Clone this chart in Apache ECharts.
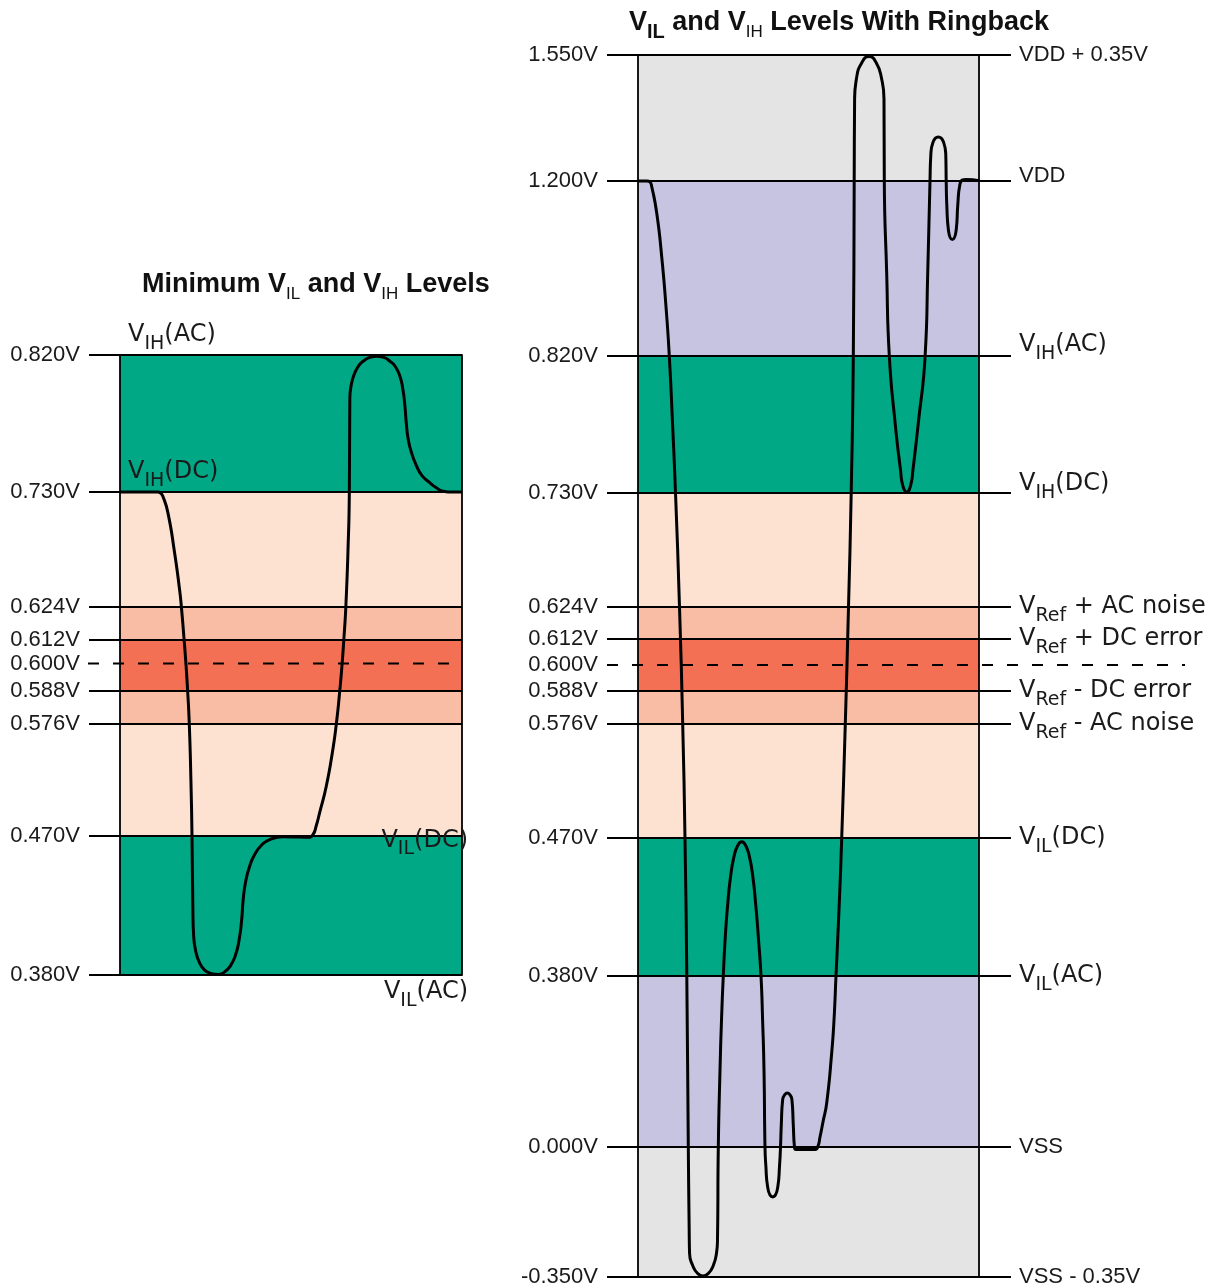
<!DOCTYPE html>
<html><head><meta charset="utf-8">
<script src="https://cdn.jsdelivr.net/npm/echarts@6/dist/echarts.min.js"></script>
<style>html,body{margin:0;padding:0;background:#fff}#c{width:1221px;height:1287px}</style>
</head><body><div id="c"></div>
<script>
// ===================== DATA =====================
const leftLevels = [0.380, 0.470, 0.576, 0.588, 0.600, 0.612, 0.624, 0.730, 0.820];
const leftTickLabels = ['0.380V', '0.470V', '0.576V', '0.588V', '0.600V', '0.612V', '0.624V', '0.730V', '0.820V'];
const leftLevelNames = ['V_IL(AC)', 'V_IL(DC)', '', '', '', '', '', 'V_IH(DC)', 'V_IH(AC)'];

const rightLevels = [-0.350, 0.000, 0.380, 0.470, 0.576, 0.588, 0.600, 0.612, 0.624, 0.730, 0.820, 1.200, 1.550];
const rightTickLabels = ['-0.350V', '0.000V', '0.380V', '0.470V', '0.576V', '0.588V', '0.600V', '0.612V', '0.624V', '0.730V', '0.820V', '1.200V', '1.550V'];
const rightLevelNames = ['VSS - 0.35V', 'VSS', 'V_IL(AC)', 'V_IL(DC)', 'V_Ref - AC noise', 'V_Ref - DC error', '', 'V_Ref + DC error', 'V_Ref + AC noise', 'V_IH(DC)', 'V_IH(AC)', 'VDD', 'VDD + 0.35V'];

const vRef = 0.600;

// bands: [low, high, kind]
const leftBands = [[0.380, 0.470, 'ac'], [0.470, 0.576, 'dc'], [0.576, 0.588, 'noise'], [0.588, 0.612, 'error'], [0.612, 0.624, 'noise'], [0.624, 0.730, 'dc'], [0.730, 0.820, 'ac']];
const rightBands = [[-0.350, 0.000, 'over'], [0.000, 0.380, 'rail'], [0.380, 0.470, 'ac'], [0.470, 0.576, 'dc'], [0.576, 0.588, 'noise'], [0.588, 0.612, 'error'], [0.612, 0.624, 'noise'], [0.624, 0.730, 'dc'], [0.730, 0.820, 'ac'], [0.820, 1.200, 'rail'], [1.200, 1.550, 'over']];

// waveform: time (% of window) and voltage
const leftTime = [0, 11.1, 11.86, 12.53, 14.0, 15.96, 17.42, 17.95, 18.74, 19.27, 19.77, 20.26, 20.73, 21.05, 21.32, 21.52, 22.1, 23.28, 24.74, 26.5, 28.64, 30.6, 32.36, 33.82, 34.85, 35.58, 36.02, 36.75, 37.92, 39.38, 41.43, 43.78, 47.67, 52.56, 54.9, 56.37, 57.4, 58.4, 60.3, 62.1, 63.25, 64.27, 64.95, 65.45, 66.03, 66.7, 67.06, 67.2, 67.64, 68.67, 69.84, 71.1, 73.06, 75.02, 77.16, 78.92, 80.38, 81.84, 82.72, 83.31, 83.75, 84.28, 85.21, 86.73, 88.29, 90.63, 92.39, 94.52, 97.07, 100];
const leftVolts = [0.730, 0.730, 0.729, 0.726, 0.711, 0.674, 0.640, 0.624, 0.612, 0.600, 0.588, 0.576, 0.523, 0.470, 0.4203, 0.4061, 0.3958, 0.3878, 0.3832, 0.3810, 0.3803, 0.3820, 0.3862, 0.3932, 0.4029, 0.4158, 0.4287, 0.4403, 0.4502, 0.4577, 0.4639, 0.4674, 0.4692, 0.4690, 0.4688, 0.4706, 0.4795, 0.492, 0.5166, 0.549, 0.576, 0.588, 0.600, 0.612, 0.624, 0.680, 0.730, 0.7908, 0.8006, 0.8083, 0.8131, 0.8159, 0.8184, 0.8192, 0.8184, 0.8159, 0.8128, 0.8061, 0.7973, 0.7864, 0.7743, 0.7645, 0.7560, 0.7470, 0.7408, 0.7360, 0.7330, 0.7305, 0.730, 0.730];

const rightTime = [0, 2.64, 3.52, 4.02, 5.48, 6.95, 8.21, 9.18, 10.12, 11.0,
  12.17, 13.11, 13.78, 14.31, 14.75, 15.01, 15.13, 16.04, 17.45, 19.06,
  20.67, 22.08, 22.99, 23.31, 23.55, 24.05, 24.49, 25.01, 25.6, 26.33,
  27.21, 28.15, 29.18, 30.41, 31.64, 32.67, 33.61, 34.49, 35.28, 36.07,
  36.54, 36.95, 37.24, 37.48, 38.04, 39.5, 40.97, 41.52, 41.79, 42.02,
  42.43, 43.05, 43.78, 44.52, 45.13, 45.54, 45.89, 46.33, 51.91, 52.79,
  53.37, 54.25, 55.34, 56.8, 57.48, 58.06, 59.03, 59.74, 60.79, 61.73,
  62.52, 63.14, 63.4, 63.52, 64.08, 65.69, 67.74, 69.79, 71.41, 72.14,
  72.23, 72.93, 73.7, 75.4, 76.98, 77.65, 78.8, 79.94, 80.62, 82.2,
  84.2, 84.96, 85.63, 85.87, 86.51, 88.06, 89.62, 90.26, 90.38, 90.56,
  91.03, 92.17, 93.31, 93.78, 94.37, 95.16, 96.19, 100];
const rightVolts = [1.200, 1.200, 1.1978, 1.188, 1.131, 1.036, 0.927, 0.820, 0.776, 0.730,
  0.624, 0.576, 0.470, 0.380, 0.000, -0.2234, -0.2875, -0.3190, -0.3400, -0.3473,
  -0.3400, -0.3190, -0.2875, -0.2504, 0.000, 0.1711, 0.2822, 0.380, 0.4056, 0.4274,
  0.4459, 0.4578, 0.4648, 0.4676, 0.4648, 0.4578, 0.4459, 0.4274, 0.4056, 0.380,
  0.2822, 0.1711, 0.000, -0.0485, -0.1093, -0.1346, -0.1093, -0.0485, 0.000, 0.0489,
  0.1058, 0.1162, 0.120, 0.1162, 0.1058, 0.0489, 0.000, -0.0067, -0.0067, 0.0022,
  0.0222, 0.0556, 0.0978, 0.2089, 0.2822, 0.380, 0.4276, 0.470, 0.576, 0.624,
  0.730, 0.820, 1.200, 1.425, 1.4854, 1.5297, 1.5459, 1.5297, 1.4854, 1.425,
  1.200, 1.000, 0.820, 0.776, 0.7451, 0.7349, 0.7306, 0.7349, 0.7451, 0.776,
  0.820, 1.000, 1.200, 1.2722, 1.3075, 1.3222, 1.3075, 1.2722, 1.200, 1.1479,
  1.0936, 1.0730, 1.0936, 1.1479, 1.1913, 1.2028, 1.2042, 1.201];

const leftTitle = ['Minimum V', 'IL', ' and V', 'IH', ' Levels'];
const rightTitle = ['V', 'IL', ' and V', 'IH', ' Levels With Ringback'];

// ===================== LAYOUT / STYLE =====================
// non-linear voltage scale: display position (px from bottom of box) of each level
const LEFT_POS = [0, 139.5, 251, 284.5, 311.5, 335.5, 368, 483, 620];
const RIGHT_POS = [0, 130, 301, 439, 553, 586, 612, 638, 670, 784, 921, 1096, 1222];
const BAND_COLORS = { over: '#E4E4E4', rail: '#C7C4E1', ac: '#00A886', dc: '#FDE1D1', noise: '#F9BDA6', error: '#F37054' };
const FONT = '"Liberation Sans", Arial, Helvetica, sans-serif';
const WIDE = '"DejaVu Sans", Verdana, sans-serif';
const INK = '#1a1a1a';
const LEFT_NAME_PLACE = {
  'V_IH(AC)': { x: 0, align: 'left', dx: 8, dy: -20 },
  'V_IH(DC)': { x: 0, align: 'left', dx: 8, dy: -20 },
  'V_IL(DC)': { x: 100, align: 'right', dx: 6, dy: 5 },
  'V_IL(AC)': { x: 100, align: 'right', dx: 6, dy: 17 }
};
const RIGHT_NAME_LIFT = { 'VDD': 5, 'V_IH(AC)': 11, 'V_IH(DC)': 9 };

function toPos(v, levels, pos) {
  let i = 0;
  while (i < levels.length - 2 && v > levels[i + 1]) i++;
  const a = levels[i], b = levels[i + 1];
  return pos[i] + (v - a) / (b - a) * (pos[i + 1] - pos[i]);
}
const lp = v => toPos(v, leftLevels, LEFT_POS);
const rp = v => toPos(v, rightLevels, RIGHT_POS);

function richName(name) {
  const m = /^V_([A-Za-z]+)(.*)$/.exec(name);
  if (!m) return '{p|' + name + '}';
  return '{m|V}{s|' + m[1] + '}{m|' + m[2] + '}';
}
const NAME_RICH = {
  p: { fontSize: 22, fontFamily: FONT, color: INK, lineHeight: 38, textBorderWidth: 0, opacity: 1 },
  m: { fontSize: 24, fontFamily: WIDE, color: INK, lineHeight: 38, textBorderWidth: 0, opacity: 1 },
  s: { fontSize: 19, fontFamily: WIDE, color: INK, padding: [18, 0, 0, 0], textBorderWidth: 0, opacity: 1 }
};
const RIGHT_RICH = Object.assign({}, NAME_RICH);
Object.keys(RIGHT_NAME_LIFT).forEach(k => {
  const L = RIGHT_NAME_LIFT[k];
  RIGHT_RICH['g' + L] = { fontSize: 1, lineHeight: 2 * L, color: 'rgba(0,0,0,0)' };
});
function rightName(name) {
  const L = RIGHT_NAME_LIFT[name];
  return richName(name) + (L ? '\n{g' + L + '| }' : '');
}

function lookupLabel(val, levels, posFn, labels) {
  let best = 0, d = 1e9;
  levels.forEach((lv, i) => { const dd = Math.abs(posFn(lv) - val); if (dd < d) { d = dd; best = i; } });
  return labels[best];
}

const TICK_STYLE = { color: '#000', width: 2 };
const LINE_STYLE = { color: '#000', width: 1.8, type: 'solid' };

function valueAxis(grid, maxPos, position, opts) {
  return Object.assign({
    gridIndex: grid, type: 'value', min: 0, max: maxPos, position: position, z: 6,
    axisLine: { show: true, onZero: false, lineStyle: { color: '#000', width: 1.8 } },
    axisTick: { show: false }, axisLabel: { show: false }, splitLine: { show: false }
  }, opts || {});
}

const leftTickPos = leftLevels.filter(v => v !== vRef).map(lp);
const rightTickPos = rightLevels.filter(v => v !== vRef).map(rp);
const LMAX = LEFT_POS[LEFT_POS.length - 1], RMAX = RIGHT_POS[RIGHT_POS.length - 1];

const tickLabelStyle = { fontSize: 22, fontFamily: FONT, color: INK, margin: 40, hideOverlap: false };

function bandArea(bands, posFn) {
  return {
    silent: true,
    data: bands.map(b => [{ yAxis: posFn(b[0]), itemStyle: { color: BAND_COLORS[b[2]] } }, { yAxis: posFn(b[1]) }])
  };
}
function levelLines(levels, posFn) {
  return {
    silent: true, symbol: 'none', label: { show: false }, lineStyle: LINE_STYLE,
    emphasis: { disabled: true },
    data: levels.filter(v => v !== vRef).map(v => ({ yAxis: posFn(v) }))
  };
}

const titleRich = {
  b: { fontSize: 27, fontWeight: 'bold', fontFamily: FONT, color: '#111', lineHeight: 40 },
  bs: { fontSize: 17, fontWeight: 'normal', fontFamily: FONT, color: '#111', padding: [18, 0, 0, 0] },
  bsb: { fontSize: 20, fontWeight: 'bold', fontFamily: FONT, color: '#111', padding: [18, 0, 0, 0] }
};
function titleText(parts, boldSubFirst) {
  return '{b|' + parts[0] + '}{' + (boldSubFirst ? 'bsb' : 'bs') + '|' + parts[1] + '}{b|' + parts[2] + '}{bs|' + parts[3] + '}{b|' + parts[4] + '}';
}

const leftNameItems = leftLevelNames.map((n, i) => {
  if (!n) return null;
  const p = LEFT_NAME_PLACE[n];
  return {
    value: [p.x, lp(leftLevels[i])],
    label: { show: true, formatter: richName(n), position: 'inside', align: p.align, verticalAlign: 'middle',
      offset: [p.dx, p.dy], color: INK, opacity: 1, textBorderWidth: 0, rich: NAME_RICH }
  };
}).filter(Boolean);

const WAVE_SMOOTH = 0.55;

const option = {
  animation: false,
  backgroundColor: '#fff',
  title: [
    { text: titleText(leftTitle, false), left: 142, top: 265, padding: 0, textStyle: { rich: titleRich } },
    { text: titleText(rightTitle, true), left: 629, top: 3, padding: 0, textStyle: { rich: titleRich } }
  ],
  grid: [
    { left: 120, top: 355, width: 342, height: 620, outerBoundsMode: 'none' },
    { left: 638, top: 55, width: 341, height: 1222, outerBoundsMode: 'none' },
    { left: 88, top: 355, width: 374, height: 620, outerBoundsMode: 'none' },
    { left: 607, top: 55, width: 578, height: 1222, outerBoundsMode: 'none' }
  ],
  xAxis: [
    { gridIndex: 0, type: 'value', min: 0, max: 100, show: false },
    { gridIndex: 1, type: 'value', min: 0, max: 100, show: false },
    { gridIndex: 2, type: 'value', min: 0, max: 1, show: false },
    { gridIndex: 3, type: 'value', min: 0, max: 1, show: false }
  ],
  yAxis: [
    valueAxis(0, LMAX, 'left', {
      axisTick: { show: true, length: 31, lineStyle: TICK_STYLE, customValues: leftTickPos },
      axisLabel: Object.assign({ show: true, customValues: leftLevels.map(lp),
        formatter: v => lookupLabel(v, leftLevels, lp, leftTickLabels) }, tickLabelStyle)
    }),
    valueAxis(0, LMAX, 'right'),
    valueAxis(1, RMAX, 'left', {
      axisTick: { show: true, length: 31, lineStyle: TICK_STYLE, customValues: rightTickPos },
      axisLabel: Object.assign({ show: true, customValues: rightLevels.map(rp),
        formatter: v => lookupLabel(v, rightLevels, rp, rightTickLabels) }, tickLabelStyle)
    }),
    valueAxis(1, RMAX, 'right', {
      axisTick: { show: true, length: 32, lineStyle: TICK_STYLE, customValues: rightTickPos },
      axisLabel: { show: true, customValues: rightTickPos, margin: 40, hideOverlap: false,
        formatter: v => rightName(lookupLabel(v, rightLevels, rp, rightLevelNames)), rich: RIGHT_RICH }
    }),
    { gridIndex: 2, type: 'value', min: 0, max: LMAX, show: false },
    { gridIndex: 3, type: 'value', min: 0, max: RMAX, show: false }
  ],
  series: [
    { type: 'line', name: 'leftBands', xAxisIndex: 0, yAxisIndex: 0, data: [], z: 1,
      markArea: bandArea(leftBands, lp), markLine: levelLines(leftLevels, lp) },
    { type: 'line', name: 'rightBands', xAxisIndex: 1, yAxisIndex: 2, data: [], z: 1,
      markArea: bandArea(rightBands, rp), markLine: levelLines(rightLevels, rp) },
    { type: 'line', name: 'leftVref', xAxisIndex: 2, yAxisIndex: 4, symbol: 'none', silent: true, z: 6,
      data: [[0, lp(vRef)], [1, lp(vRef)]], lineStyle: { color: '#000', width: 1.8, type: [11, 14] } },
    { type: 'line', name: 'rightVref', xAxisIndex: 3, yAxisIndex: 5, symbol: 'none', silent: true, z: 6,
      data: [[0, rp(vRef)], [1, rp(vRef)]], lineStyle: { color: '#000', width: 1.8, type: [11, 14] } },
    { type: 'line', name: 'leftWave', xAxisIndex: 0, yAxisIndex: 0, symbol: 'none', silent: true, z: 10,
      smooth: WAVE_SMOOTH, clip: false,
      data: leftTime.map((t, i) => [t, lp(leftVolts[i])]), lineStyle: { color: '#000', width: 3 } },
    { type: 'line', name: 'rightWave', xAxisIndex: 1, yAxisIndex: 2, symbol: 'none', silent: true, z: 10,
      smooth: WAVE_SMOOTH, clip: false,
      data: rightTime.map((t, i) => [t, rp(rightVolts[i])]), lineStyle: { color: '#000', width: 3 } },
    { type: 'scatter', name: 'leftNames', xAxisIndex: 0, yAxisIndex: 0, symbolSize: 0, silent: true, clip: false, z: 12,
      itemStyle: { color: 'transparent', opacity: 1 }, data: leftNameItems }
  ]
};

const chart = echarts.init(document.getElementById('c'), null, { renderer: 'canvas' });
chart.setOption(option);
</script>
</body></html>
